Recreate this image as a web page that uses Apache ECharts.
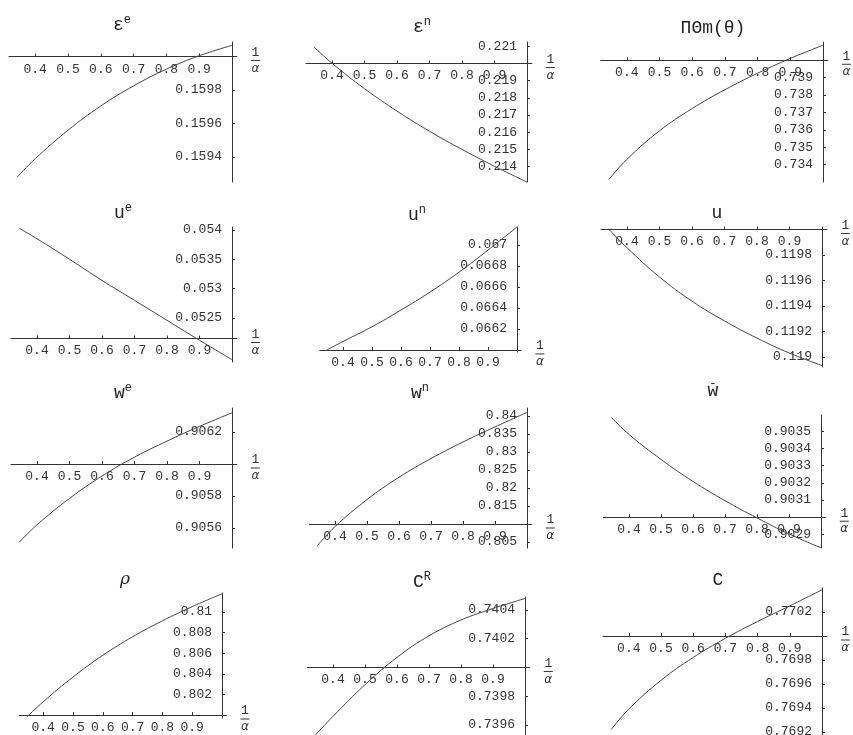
<!DOCTYPE html>
<html>
<head>
<meta charset="utf-8">
<script src="https://cdn.jsdelivr.net/npm/echarts@6.0.0/dist/echarts.min.js"></script>
<style>
  html, body { margin: 0; padding: 0; background: #fff; }
  #chart { width: 853px; height: 735px; }
</style>
</head>
<body>
<div id="chart"></div>
<script>
// 1/alpha sample points, shared by every panel
const xValues = [0.345, 0.4, 0.5, 0.6, 0.7, 0.8, 0.9, 1.0];
const xTicks = [0.4, 0.5, 0.6, 0.7, 0.8, 0.9];

// values
const epsE = [0.15928, 0.15939, 0.15956, 0.159705, 0.159825, 0.159925, 0.160005, 0.160067];
const epsETicks = [0.1594, 0.1596, 0.1598];
const epsN = [0.22095, 0.220015, 0.218535, 0.217225, 0.216055, 0.214995, 0.214015, 0.213095];
const epsNTicks = [0.214, 0.215, 0.216, 0.217, 0.218, 0.219, 0.221];
const piTheta = [0.73314, 0.734295, 0.735945, 0.737225, 0.738305, 0.739255, 0.740105, 0.740865];
const piThetaTicks = [0.734, 0.735, 0.736, 0.737, 0.738, 0.739];

const uE = [0.05403, 0.05385, 0.05350, 0.05314, 0.05280, 0.05246, 0.05212, 0.05179];
const uETicks = [0.0525, 0.053, 0.0535, 0.054];
const uN = [0.06600, 0.06608, 0.06622, 0.06638, 0.06655, 0.06674, 0.06695, 0.06717];
const uNTicks = [0.0662, 0.0664, 0.0666, 0.0668, 0.067];
const uTot = [0.12000, 0.119857, 0.119627, 0.119437, 0.119282, 0.119147, 0.119029, 0.118931];
const uTotTicks = [0.119, 0.1192, 0.1194, 0.1196, 0.1198];

const wE = [0.90551, 0.90562, 0.905785, 0.905925, 0.906043, 0.906143, 0.906235, 0.90632];
const wETicks = [0.9056, 0.9058, 0.9062];
const wN = [0.8040, 0.80928, 0.81678, 0.82298, 0.82818, 0.83278, 0.83698, 0.84098];
const wNTicks = [0.805, 0.815, 0.82, 0.825, 0.83, 0.835, 0.84];
const wBar = [0.90358, 0.903481, 0.903336, 0.903208, 0.903096, 0.902996, 0.902903, 0.902822];
const wBarTicks = [0.9029, 0.9031, 0.9032, 0.9033, 0.9034, 0.9035];

const rho = [0.7998, 0.801285, 0.803685, 0.805785, 0.807585, 0.809135, 0.810505, 0.811755];
const rhoTicks = [0.802, 0.804, 0.806, 0.808, 0.81];
const cR = [0.73953, 0.73966, 0.73988, 0.74007, 0.74022, 0.74033, 0.74041, 0.74048];
const cRTicks = [0.7396, 0.7398, 0.7402, 0.7404];
const cTot = [0.76922, 0.769391, 0.769631, 0.769821, 0.769981, 0.770121, 0.770251, 0.770385];
const cTotTicks = [0.7692, 0.7694, 0.7696, 0.7698, 0.7702];

// panel layout: origin = where the 1/alpha axis crosses, yMin/yMax = extent of the vertical axis
const panels = [
  {title: '{b|ε}{s|e}', values: epsE, ticks: epsETicks, origin: 0.16, yMin: 0.159251, yMax: 0.160087, top: 42, bottom: 182, xEnd: 232, pxPer: 328, tx: 122, ty: 25},
  {title: '{b|ε}{s|n}', values: epsN, ticks: epsNTicks, origin: 0.22, yMin: 0.21310, yMax: 0.22125, top: 42, bottom: 182, xEnd: 527, pxPer: 325, tx: 422, ty: 27},
  {title: '{b|ΠΘm(θ)}', values: piTheta, ticks: piThetaTicks, origin: 0.74, yMin: 0.7330, yMax: 0.74105, top: 42, bottom: 182, xEnd: 823, pxPer: 327, tx: 713, ty: 28},
  {title: '{b|u}{s|e}', values: uE, ticks: uETicks, origin: 0.05215, yMin: 0.05175, yMax: 0.05405, top: 227, bottom: 362, xEnd: 232, pxPer: 325, tx: 123, ty: 213},
  {title: '{b|u}{s|n}', values: uN, ticks: uNTicks, origin: 0.066, yMin: 0.06598, yMax: 0.06717, top: 227, bottom: 352, xEnd: 517, pxPer: 290, tx: 417, ty: 215},
  {title: '{b|u}', values: uTot, ticks: uTotTicks, origin: 0.12, yMin: 0.11892, yMax: 0.12002, top: 227, bottom: 367, xEnd: 822, pxPer: 325, tx: 717, ty: 213},
  {title: '{b|w}{s|e}', values: wE, ticks: wETicks, origin: 0.906, yMin: 0.905475, yMax: 0.90635, top: 408, bottom: 548, xEnd: 232, pxPer: 325, tx: 123, ty: 393},
  {title: '{b|w}{s|n}', values: wN, ticks: wNTicks, origin: 0.81, yMin: 0.80333, yMax: 0.84222, top: 408, bottom: 548, xEnd: 527, pxPer: 320, tx: 420, ty: 393},
  {title: '{m|-}\n{w|w}', values: wBar, ticks: wBarTicks, origin: 0.903, yMin: 0.902821, yMax: 0.903594, top: 415, bottom: 548, xEnd: 821, pxPer: 320, tx: 713, ty: 390},
  {title: '{i|ρ}', values: rho, ticks: rhoTicks, origin: 0.8, yMin: 0.79971, yMax: 0.81183, top: 593, bottom: 718, xEnd: 222, pxPer: 298, tx: 125, ty: 580},
  {title: '{b|C}{s|R}', values: cR, ticks: cRTicks, origin: 0.74, yMin: 0.73953, yMax: 0.74049, top: 597, bottom: 735, xEnd: 525, pxPer: 320, tx: 422, ty: 582},
  {title: '{b|C}', values: cTot, ticks: cTotTicks, origin: 0.77, yMin: 0.769175, yMax: 0.7704, top: 588, bottom: 735, xEnd: 822, pxPer: 322, tx: 718, ty: 580}
];

const X_MIN = 0.32, X_MAX = 1.015;
const mono = 'Liberation Mono';
const ink = '#333';
const fmt = v => String(+Number(v).toFixed(6));

const titleRich = {
  b: {fontFamily: mono, fontWeight: 'normal', fontSize: 18, lineHeight: 22, color: '#222'},
  s: {fontFamily: mono, fontWeight: 'normal', fontSize: 12, lineHeight: 12, verticalAlign: 'top', color: '#222'},
  i: {fontFamily: 'DejaVu Serif', fontWeight: 'normal', fontStyle: 'italic', fontSize: 17, lineHeight: 22, color: '#222'},
  w: {fontFamily: mono, fontWeight: 'normal', fontSize: 18, lineHeight: 12, color: '#222'},
  m: {fontFamily: mono, fontWeight: 'normal', fontSize: 13, lineHeight: 2, color: '#222'}
};
const nameRich = {
  n: {fontFamily: mono, fontSize: 13, lineHeight: 13, align: 'center', color: ink},
  bar: {width: 9, height: 1, lineHeight: 3, backgroundColor: ink, align: 'center'},
  d: {fontFamily: 'DejaVu Sans', fontStyle: 'italic', fontSize: 12, lineHeight: 13, align: 'center', color: ink}
};

let grid = [], xAxis = [], yAxis = [], series = [], title = [];
panels.forEach((p, i) => {
  const height = p.bottom - p.top;
  const left = p.xEnd - (1 - X_MIN) * p.pxPer;
  const width = (X_MAX - X_MIN) * p.pxPer;
  grid.push({left: left, top: p.top, width: width, height: height, containLabel: false, outerBoundsMode: 'none'});
  xAxis.push({
    gridIndex: i,
    type: 'value',
    min: X_MIN,
    max: X_MAX,
    position: 'bottom',
    // put the axis at the origin value instead of the bottom edge
    offset: -height * (p.origin - p.yMin) / (p.yMax - p.yMin),
    name: '{n|1}\n{bar| }\n{d|α}',
    nameLocation: 'end',
    nameGap: 14,
    nameTextStyle: {padding: [8, 0, 0, 0], rich: nameRich},
    axisLine: {onZero: false, lineStyle: {color: ink, width: 1}},
    axisTick: {customValues: xTicks, inside: true, length: 3, lineStyle: {color: ink}},
    axisLabel: {customValues: xTicks, margin: 6, formatter: fmt, fontFamily: mono, fontSize: 13, color: ink},
    splitLine: {show: false}
  });
  yAxis.push({
    gridIndex: i,
    type: 'value',
    min: p.yMin,
    max: p.yMax,
    position: 'right',
    offset: -(X_MAX - 1) * p.pxPer,
    axisLine: {show: true, onZero: false, lineStyle: {color: ink, width: 1}},
    axisTick: {show: true, customValues: p.ticks, length: 3, lineStyle: {color: ink}},
    axisLabel: {inside: true, customValues: p.ticks, margin: 10, formatter: fmt, fontFamily: mono, fontSize: 13, color: ink},
    splitLine: {show: false}
  });
  series.push({
    type: 'line',
    xAxisIndex: i,
    yAxisIndex: i,
    data: xValues.map((x, k) => [x, p.values[k]]),
    showSymbol: false,
    smooth: 0.4,
    clip: false,
    silent: true,
    lineStyle: {color: '#444', width: 1}
  });
  title.push({
    text: p.title,
    left: p.tx,
    top: p.ty,
    textAlign: 'center',
    textVerticalAlign: 'middle',
    padding: 0,
    textStyle: {fontWeight: 'normal', rich: titleRich}
  });
});

const chart = echarts.init(document.getElementById('chart'));
chart.setOption({
  animation: false,
  backgroundColor: '#fff',
  title: title,
  grid: grid,
  xAxis: xAxis,
  yAxis: yAxis,
  series: series
});
</script>
</body>
</html>
